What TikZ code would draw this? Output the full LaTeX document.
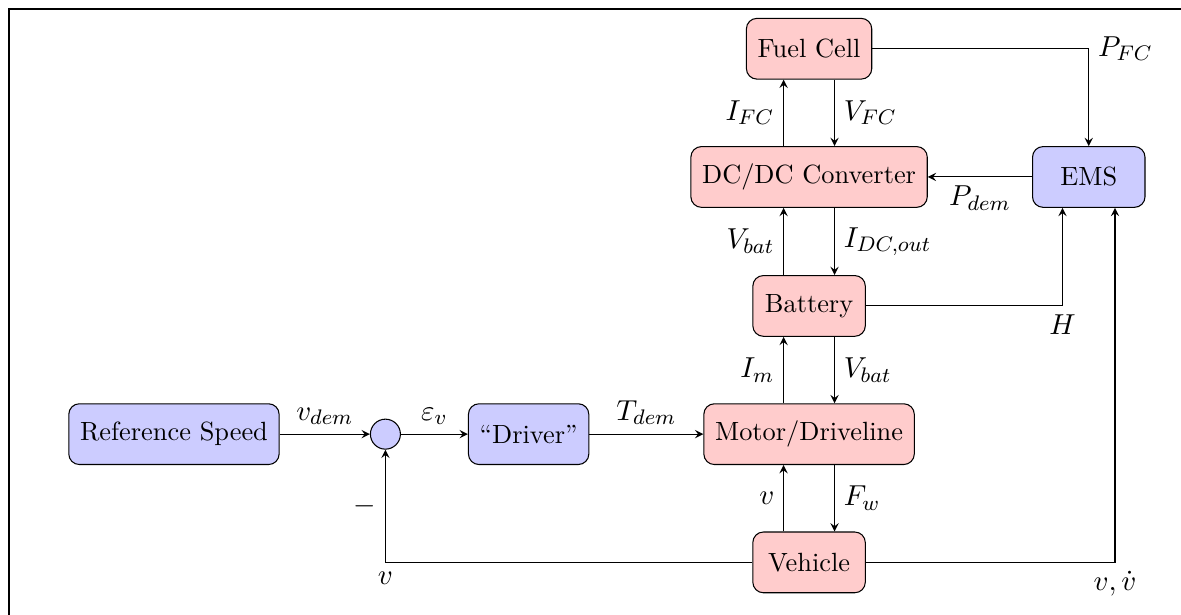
\documentclass[tikz,border=0pt]{standalone}

\begin{document}
\begin{tikzpicture}[
        % Общий вид стрелок
        >=stealth,
        % Стиль для блоков: рамка, скругленные углы, размеры
        block/.style={
            draw,
            rounded corners=4pt,
            minimum width=1.5cm,
            minimum height=0.81cm,
            inner xsep=0.15cm
        },
        % Синие блоки (управление) и красные блоки (объект)
        ctrl block/.style={block, fill=blue!20},
        plant block/.style={block, fill=red!20},
        % Стиль для сумматора
        sum style/.style={
            draw, circle, fill=blue!20,
            minimum size=0.4cm,
            inner sep=0pt
        },
        % Стиль для подписей сигналов
        sig/.style={
            font=\fontsize{11}{13}\selectfont
        },
        % Стиль для соединений
        link/.style={->, thin}
    ]

        % Границы рисунка и рамка
        \useasboundingbox (0, 0) rectangle (15.75, -8.2);
        \draw (0.12, -8.2) |- (15.75, -0.12);

        % Контур скорости (нижний ряд)
        \node[ctrl block] (ref) at (2.32, -5.79) {Reference Speed};
        \node[sum style] (sum) at (5.14, -5.79) {};
        \node[ctrl block] (driver) at (7.05, -5.79) {``Driver''};

        % Силовая цепь (столбец)
        \node[plant block] (fc) at (10.79, -0.65) {Fuel Cell};
        \node[plant block] (dcdc) at (10.79, -2.36) {DC/DC Converter};
        \node[plant block] (bat) at (10.79, -4.08) {Battery};
        \node[plant block] (motor) at (10.79, -5.79) {Motor/Driveline};
        \node[plant block] (veh) at (10.79, -7.5) {Vehicle};

        % Система управления энергией
        \node[ctrl block] (ems) at (14.52, -2.36) {EMS};

        % Горизонтальные связи
        \draw[link] (ref) -- node[sig, above] {$v_{dem}$} (sum);
        \draw[link] (sum) -- node[sig, above] {$\varepsilon_v$} (driver);
        \draw[link] (driver) -- node[sig, above] {$T_{dem}$} (motor);
        \draw[link] (ems) -- node[sig, below] {$P_{dem}$} (dcdc);

        % Вертикальные связи (левая сторона, вверх)
        \draw[link] ([xshift=-3.4mm]dcdc.north) -- node[sig, left] {$I_{FC}$} ([xshift=-3.4mm]fc.south);
        \draw[link] ([xshift=-3.4mm]bat.north) -- node[sig, left] {$V_{bat}$} ([xshift=-3.4mm]dcdc.south);
        \draw[link] ([xshift=-3.4mm]motor.north) -- node[sig, left] {$I_m$} ([xshift=-3.4mm]bat.south);
        \draw[link] ([xshift=-3.4mm]veh.north) -- node[sig, left] {$v$} ([xshift=-3.4mm]motor.south);

        % Вертикальные связи (правая сторона, вниз)
        \draw[link] ([xshift=3.4mm]fc.south) -- node[sig, right] {$V_{FC}$} ([xshift=3.4mm]dcdc.north);
        \draw[link] ([xshift=3.4mm]dcdc.south) -- node[sig, right] {$I_{DC,out}$} ([xshift=3.4mm]bat.north);
        \draw[link] ([xshift=3.4mm]bat.south) -- node[sig, right] {$V_{bat}$} ([xshift=3.4mm]motor.north);
        \draw[link] ([xshift=3.4mm]motor.south) -- node[sig, right] {$F_w$} ([xshift=3.4mm]veh.north);

        % Сигналы в EMS
        \draw[link] (fc) -| node[sig, pos=0.5, right] {$P_{FC}$} (ems);
        \draw[link] (bat) -| node[sig, pos=0.5, below] {$H$} ([xshift=-3.5mm]ems.south);
        \draw[link] (veh) -| node[sig, pos=0.5, below] {$v, \dot{v}$} ([xshift=3.5mm]ems.south);

        % Обратная связь по скорости
        \draw[link] (veh) -| node[sig, pos=0.5, below] {$v$} node[sig, pos=0.75, left] {$-$} (sum);

    \end{tikzpicture}
\end{document}
